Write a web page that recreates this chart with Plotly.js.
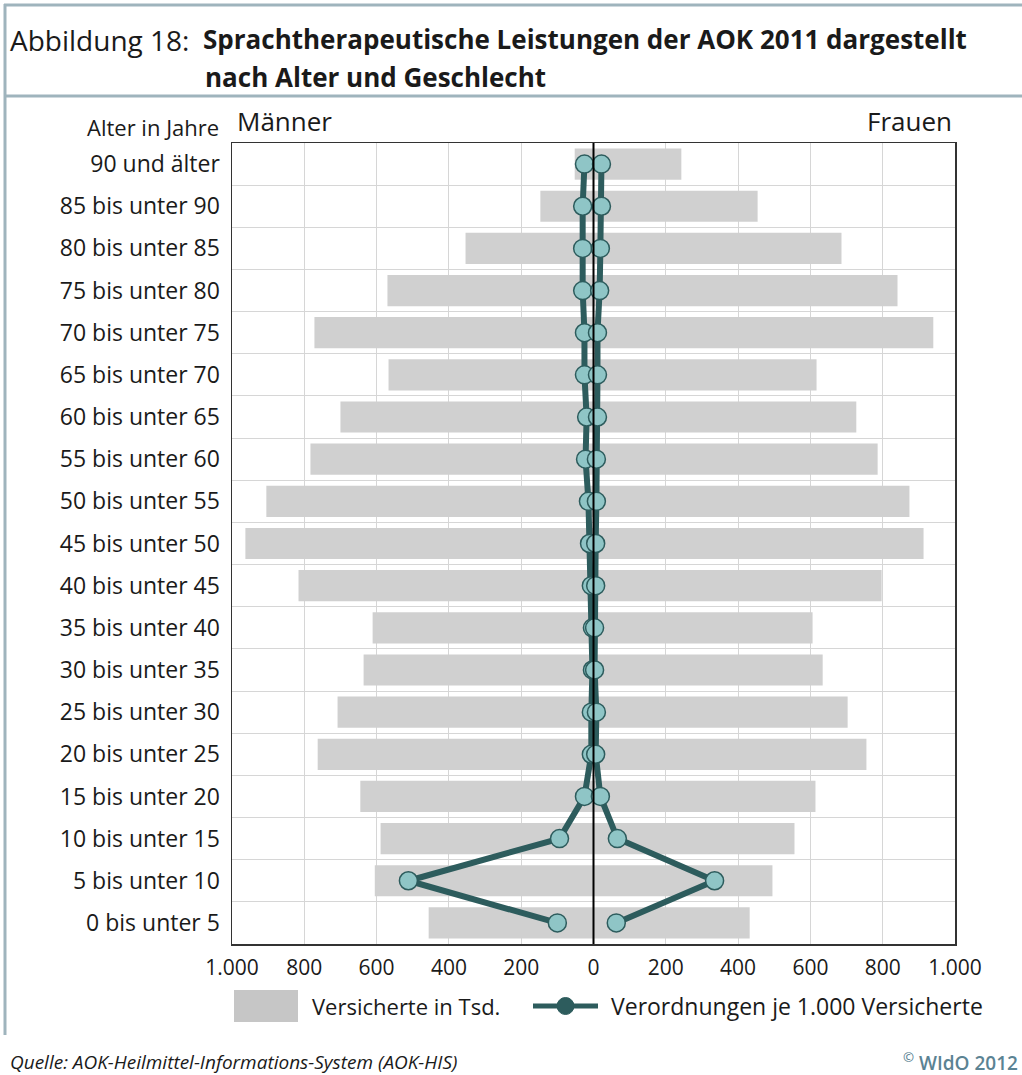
<!DOCTYPE html>
<html>
<head>
<meta charset="utf-8">
<script src="https://cdn.plot.ly/plotly-3.0.1.min.js"></script>
<style>
  html, body { margin: 0; padding: 0; background: #ffffff; }
  #chart { width: 1022px; height: 1075px; }
</style>
</head>
<body>
<div id="chart"></div>
<script>
// ---- Data ----
var categories = ["90 und älter","85 bis unter 90","80 bis unter 85","75 bis unter 80","70 bis unter 75",
  "65 bis unter 70","60 bis unter 65","55 bis unter 60","50 bis unter 55","45 bis unter 50",
  "40 bis unter 45","35 bis unter 40","30 bis unter 35","25 bis unter 30","20 bis unter 25",
  "15 bis unter 20","10 bis unter 15","5 bis unter 10","0 bis unter 5"];
// Versicherte in Tsd.
var menInsured   = [52,147,354,570,772,567,700,783,905,963,816,611,636,708,763,645,589,605,456];
var womenInsured = [243,454,686,841,940,617,727,786,874,913,797,606,634,703,755,614,556,495,432];
// Verordnungen je 1.000 Versicherte
var menRate   = [25,30,30,30,25,25,19,22,14,11,6,3,3,6,6,25,94,512,100];
var womenRate = [22,22,19,17,11,11,11,8,8,6,6,3,3,8,6,19,66,335,63];
// Tick labels
var xTickVals = [-1000,-800,-600,-400,-200,0,200,400,600,800,1000];
var xTickText = ["1.000","800","600","400","200","0","200","400","600","800","1.000"];

// ---- Layout geometry (pixels) ----
var W = 1022, H = 1075;
var L = 232, R = 955, T = 143, B = 944;
var PW = R - L, PH = B - T;
function px(p) { return (p - L) / PW; }
function py(p) { return (B - p) / PH; }

var idx = categories.map(function (c, i) { return i; });
var neg = function (a) { return a.map(function (v) { return -v; }); };

var barColor = '#d0d0d0';
var lineColor = '#2d5c5d';
var markerFill = '#8fc5c6';
var frameColor = '#9fb4bd';
var textColor = '#1a1a1a';
var fontFam = '"Open Sans", "Noto Sans", sans-serif';

var traces = [
  { type: 'bar', orientation: 'h', y: idx, x: neg(menInsured), name: 'Versicherte in Tsd. (Männer)',
    marker: { color: barColor }, width: 0.74, hoverinfo: 'skip', showlegend: false },
  { type: 'bar', orientation: 'h', y: idx, x: womenInsured, name: 'Versicherte in Tsd. (Frauen)',
    marker: { color: barColor }, width: 0.74, hoverinfo: 'skip', showlegend: false },
  { type: 'scatter', mode: 'lines+markers', y: idx, x: neg(menRate), name: 'Verordnungen (Männer)',
    line: { color: lineColor, width: 6 },
    marker: { size: 18, color: markerFill, line: { color: lineColor, width: 1.5 } }, showlegend: false },
  { type: 'scatter', mode: 'lines+markers', y: idx, x: womenRate, name: 'Verordnungen (Frauen)',
    line: { color: lineColor, width: 6 },
    marker: { size: 18, color: markerFill, line: { color: lineColor, width: 1.5 } }, showlegend: false }
];

var boundaries = [];
for (var k = 0; k < categories.length - 1; k++) boundaries.push(k + 0.5);

function ann(text, x, y, xanchor, size, extra) {
  var f = { family: fontFam, size: size, color: textColor };
  if (extra) for (var key in extra) f[key] = extra[key];
  return { text: text, xref: 'paper', yref: 'paper', x: px(x), y: py(y), xanchor: xanchor, yanchor: 'middle',
           showarrow: false, font: f };
}

var layout = {
  width: W, height: H,
  margin: { l: L, r: W - R, t: T, b: H - B, pad: 0 },
  paper_bgcolor: '#ffffff', plot_bgcolor: '#ffffff',
  barmode: 'overlay',
  showlegend: false,
  font: { family: fontFam, color: textColor },
  title: {
    text: '<b>Sprachtherapeutische Leistungen der AOK 2011 dargestellt</b>',
    xref: 'container', yref: 'container',
    x: 203 / W, xanchor: 'left', y: 1 - 40 / H, yanchor: 'middle',
    font: { family: fontFam, size: 26, color: textColor }
  },
  xaxis: {
    range: [-1000, 1000], tickmode: 'array', tickvals: xTickVals, ticktext: xTickText,
    showgrid: true, gridcolor: '#d6d6d6', gridwidth: 1, zeroline: false,
    showline: true, mirror: true, linecolor: '#333333', linewidth: 1.5,
    ticks: '', ticklabelstandoff: 4,
    tickfont: { family: fontFam, size: 21, color: textColor, weight: 500 }, fixedrange: true
  },
  yaxis: {
    range: [categories.length - 0.5, -0.5], tickmode: 'array', tickvals: idx, ticktext: categories,
    showgrid: false, zeroline: false,
    showline: true, mirror: true, linecolor: '#333333', linewidth: 1.5,
    ticks: '', ticklabelstandoff: 6,
    tickfont: { family: fontFam, size: 23, color: textColor, weight: 500 },
    minor: { tickmode: 'array', tickvals: boundaries, showgrid: true, gridcolor: '#d6d6d6', gridwidth: 1, ticks: '' },
    fixedrange: true
  },
  shapes: [
    // zero line
    { type: 'line', xref: 'x', yref: 'paper', x0: 0, x1: 0, y0: 0, y1: 1,
      line: { color: '#000000', width: 2 }, layer: 'above' },
    // header frame
    { type: 'line', xref: 'paper', yref: 'paper', x0: px(4), x1: px(1022), y0: py(5), y1: py(5),
      line: { color: frameColor, width: 3 } },
    { type: 'line', xref: 'paper', yref: 'paper', x0: px(4), x1: px(1022), y0: py(96), y1: py(96),
      line: { color: frameColor, width: 3 } },
    { type: 'line', xref: 'paper', yref: 'paper', x0: px(5), x1: px(5), y0: py(4), y1: py(1035),
      line: { color: frameColor, width: 3 } },
    // legend: bar swatch
    { type: 'rect', xref: 'paper', yref: 'paper', x0: px(234), x1: px(298), y0: py(990), y1: py(1022),
      fillcolor: '#c6c6c6', line: { width: 0 } },
    // legend: line with marker
    { type: 'line', xref: 'paper', yref: 'paper', x0: px(533), x1: px(598), y0: py(1006), y1: py(1006),
      line: { color: lineColor, width: 5 } },
    { type: 'circle', xref: 'paper', yref: 'paper', x0: px(557), x1: px(574), y0: py(997.5), y1: py(1014.5),
      fillcolor: lineColor, line: { color: lineColor, width: 1 } }
  ],
  annotations: [
    ann('Abbildung 18:', 8, 40, 'left', 28),
    ann('<b>nach Alter und Geschlecht</b>', 203, 77, 'left', 26),
    ann('Alter in Jahre', 221, 127, 'right', 22, { weight: 500 }),
    ann('Männer', 235, 121, 'left', 26, { weight: 500 }),
    ann('Frauen', 954, 121, 'right', 26, { weight: 500 }),
    ann('Versicherte in Tsd.', 310, 1006, 'left', 22, { weight: 500 }),
    ann('Verordnungen je 1.000 Versicherte', 609, 1006, 'left', 23, { weight: 500 }),
    ann('<i>Quelle: AOK-Heilmittel-Informations-System (AOK-HIS)</i>', 8, 1062, 'left', 19),
    ann('<sup>©</sup> WIdO 2012', 1020, 1062, 'right', 19, { color: '#5b8393', weight: 600 })
  ]
};

Plotly.newPlot('chart', traces, layout, { staticPlot: true, displayModeBar: false });
</script>
</body>
</html>
